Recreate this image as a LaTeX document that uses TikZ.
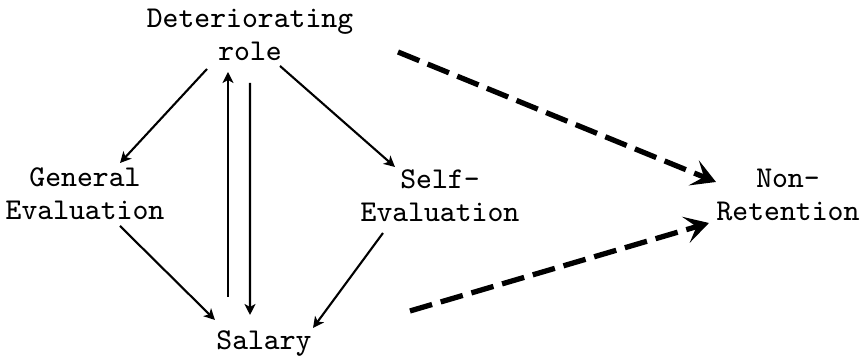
\documentclass[tikz,border=0pt]{standalone}
\usepackage{fontspec}
\usetikzlibrary{arrows.meta}

\begin{document}
\begin{tikzpicture}[
  lbl/.style={align=center, inner sep=0pt, font=\ttfamily\fontsize{8.6}{9.4}\selectfont},
  arr/.style={-{Stealth[length=0.11cm, width=0.11cm, inset=0.03cm]}, line width=0.6pt},
  dasharr/.style={-{Stealth[length=0.24cm, width=0.27cm, inset=0.11cm]}, line width=1.5pt,
    dash pattern=on 0.23cm off 0.09cm}
]
\useasboundingbox (0,0) rectangle (8.65,3.59);

\node[lbl] (role) at (2.50,3.24) {Deteriorating\\role};
\node[lbl] (gen) at (0.85,1.65) {General\\Evaluation};
\node[lbl] (self) at (4.40,1.63) {Self-\\Evaluation};
\node[lbl] (nonret) at (7.88,1.64) {Non-\\Retention};
\node[lbl] (salary) at (2.64,0.15) {Salary};

% role splits to the two evaluations
\draw[arr] ([shift={(-0.43,-0.34)}]role.center) -- ([shift={(0.35,0.31)}]gen.center);
\draw[arr] ([shift={(0.30,-0.31)}]role.center) -- ([shift={(-0.45,0.29)}]self.center);

% two-way link between role and salary
\draw[arr] ([shift={(-0.36,0.47)}]salary.center) -- ([shift={(-0.22,-0.37)}]role.center);
\draw[arr] ([shift={(0,-0.48)}]role.center) -- ([shift={(-0.14,0.29)}]salary.center);

% evaluations feed salary
\draw[arr] ([shift={(0.35,-0.32)}]gen.center) -- ([shift={(-0.49,0.24)}]salary.center);
\draw[arr] ([shift={(-0.57,-0.37)}]self.center) -- ([shift={(0.49,0.16)}]salary.center);

% paths to non-retention
\draw[dasharr] ([shift={(1.48,-0.17)}]role.center) -- ([shift={(-0.72,0.13)}]nonret.center);
\draw[dasharr] ([shift={(1.46,0.33)}]salary.center) -- ([shift={(-0.79,-0.28)}]nonret.center);

\end{tikzpicture}
\end{document}
